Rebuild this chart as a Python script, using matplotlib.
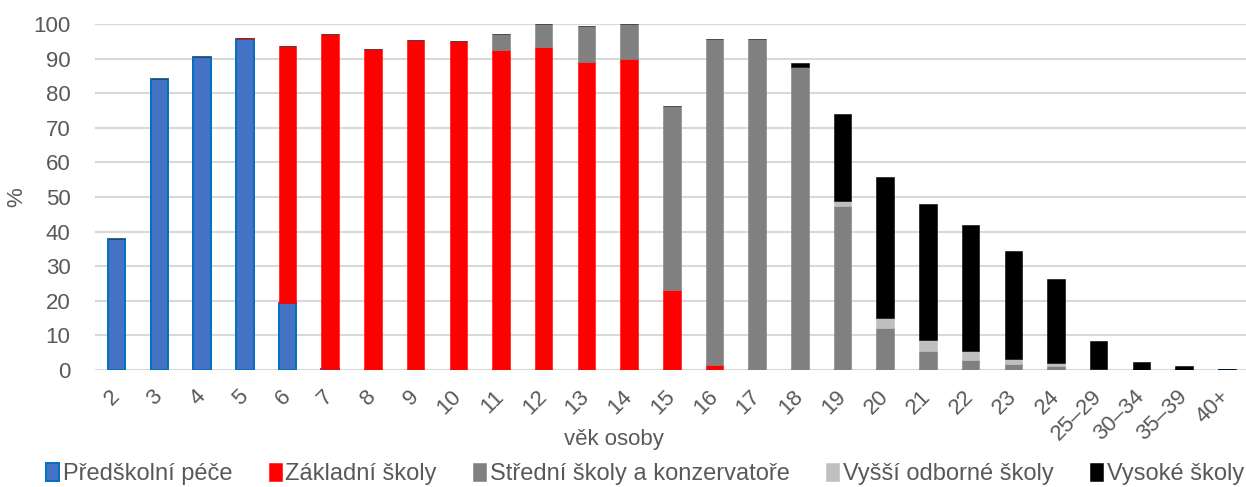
import numpy as np
import matplotlib
matplotlib.use("Agg")
import matplotlib.pyplot as plt

plt.rcParams['font.family'] = ['Liberation Sans', 'DejaVu Sans']

ages = ["2", "3", "4", "5", "6", "7", "8", "9", "10", "11", "12", "13", "14",
        "15", "16", "17", "18", "19", "20", "21", "22", "23", "24",
        "25–29", "30–34", "35–39", "40+"]

preschool = [37.8, 84.1, 90.5, 95.7, 19.3, 0.2, 0, 0, 0, 0, 0, 0, 0,
             0, 0, 0, 0, 0, 0, 0, 0, 0, 0, 0, 0, 0, 0]
primary = [0, 0, 0, 0.3, 74.2, 97.0, 92.8, 95.5, 95.0, 92.4, 93.3, 89.0, 90.0,
           23.2, 1.4, 0, 0, 0, 0, 0, 0, 0, 0, 0, 0, 0, 0]
secondary = [0, 0, 0, 0, 0, 0, 0, 0, 0, 4.6, 6.7, 10.4, 10.0,
             53.2, 94.3, 95.8, 87.5, 47.3, 12.2, 5.5, 2.9, 1.7, 1.2, 0.1, 0, 0, 0]
higher_voc = [0, 0, 0, 0, 0, 0, 0, 0, 0, 0, 0, 0, 0,
              0, 0, 0, 0, 1.6, 2.9, 3.1, 2.6, 1.5, 0.9, 0.1, 0, 0, 0]
university = [0, 0, 0, 0, 0, 0, 0, 0, 0, 0, 0, 0, 0,
              0, 0, 0, 1.1, 25.0, 40.7, 39.3, 36.4, 31.2, 24.2, 8.1, 2.2, 1.1, 0.3]

series = [
    ("Předškolní péče", preschool, "#4472C4", "#0070C0"),
    ("Základní školy", primary, "#FF0000", "#FF0000"),
    ("Střední školy a konzervatoře", secondary, "#808080", "#808080"),
    ("Vyšší odborné školy", higher_voc, "#BFBFBF", "#BFBFBF"),
    ("Vysoké školy", university, "#000000", "#000000"),
]

TEXT = "#595959"

fig = plt.figure(figsize=(12.46, 4.87), dpi=100)
ax = fig.add_axes([95.4 / 1246, 1 - 370 / 487, 1 - 95.4 / 1246, (370 - 24) / 487])

x = np.arange(len(ages))
bottom = np.zeros(len(ages))
for name, vals, color, edge in series:
    vals = np.array(vals, dtype=float)
    ax.bar(x, vals, width=0.41, bottom=bottom, color=color, edgecolor=edge,
           linewidth=1.4 if name == "Předškolní péče" else 0.4, label=name, zorder=3)
    bottom += vals

ax.set_xlim(-0.5, len(ages) - 0.55)
ax.set_ylim(0, 100)
ax.set_yticks(range(0, 101, 10))
ax.yaxis.grid(True, color="#D9D9D9", linewidth=1.5, zorder=0)
ax.set_axisbelow(True)
for s in ax.spines.values():
    s.set_visible(False)

ax.tick_params(axis="both", length=0, labelsize=16, colors=TEXT)
ax.tick_params(axis="y", pad=18)
ax.set_xticks(x)
ax.set_xticklabels(ages, rotation=45, ha="right", va="center", rotation_mode="anchor")
ax.tick_params(axis="x", pad=17)

ax.set_ylabel("%", fontsize=16, color=TEXT, labelpad=4)
fig.text(614 / 1246, 1 - 440 / 487, "věk osoby", fontsize=16, color=TEXT,
         ha="center", va="center")

fig.legend(loc="center", bbox_to_anchor=(0.5177, 0.027), ncol=5, frameon=False,
           fontsize=17, handlelength=0.55, handleheight=0.85, handletextpad=0.15,
           columnspacing=1.55, labelcolor=TEXT, borderpad=0)

fig.savefig("out.png", dpi=100)
